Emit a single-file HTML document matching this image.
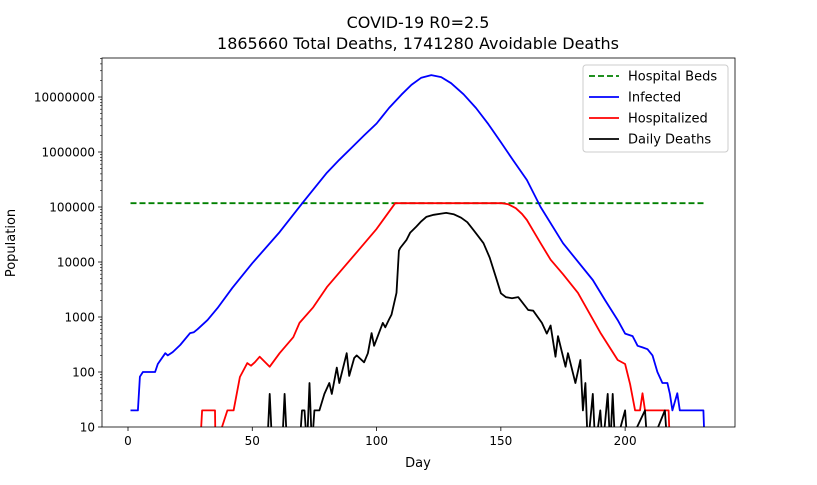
<!DOCTYPE html>
<html><head><meta charset="utf-8"><style>
body{margin:0;background:#fff;font-family:"Liberation Sans","DejaVu Sans",sans-serif}
svg text{font-family:"DejaVu Sans","Liberation Sans",sans-serif}
</style></head><body>
<svg id="c" width="817" height="480"></svg>
<script>
const bedCapacity = 117000;
const bedDays = [1, 232];
const infDays = [1,4,4.8,6,10.9,12,15,16,18,21,25,26.5,28,32,36,42,50,61,70.5,80,85,90,95,100,105,110,114,118,122,126,130,135,140,145,150,155,160.5,166,175,187,192,197,200,203,205,207,209,211,213,215,217,218,219,221,222,231.5,232];
const infVals = [20,20,82,100,100,140,220,200,230,310,510,530,600,880,1450,3400,9500,35000,123000,420000,720000,1200000,2000000,3300000,6300000,11000000,16600000,22400000,25000000,23000000,17800000,11200000,6300000,3200000,1500000,700000,310000,100000,22000,4700,2000,880,500,450,300,280,260,200,100,63,63,40,20,41,20,20,0];
const hospDays = [29,29.8,35,35.2,40,42.5,45,48,49.5,51,53,57,61,66.5,69,74.5,80,92,100,107.5,150.5,153,156,158.5,160.5,163,166,170,175,181,190,197,200,202,204,206,207,208,217.5,218];
const hospVals = [0,20,20,0,20,20,81,145,130,150,190,125,220,430,780,1500,3500,15000,40000,117000,117000,112000,95000,75000,58000,37000,22000,11000,6000,2750,520,165,140,60,20,20,41,20,20,0];
const deathDays = [56,57,58,62,63,64,69,70,71,72,73,74,75,76,77,79,81,82,84,85,88,89,91,92,95,96.5,98,99,102.5,103.5,105,106,108,109,109.5,112,113.5,116,118,120,123,126,128,131,134,136.5,139,141,143,145.5,148,150,152,154.5,157,161,163,166.5,168.5,170,172,173,176,177,180,182,183,184,185,187,188,190,191,193,194,195,196,200,201,208,209,210,216,217,218];
const deathVals = [0,40,0,0,40,0,0,20,20,0,63,0,20,20,20,40,63,40,120,63,220,85,180,200,150,220,510,300,780,650,900,1100,2750,16000,18000,25000,34000,44000,55000,66000,72000,76000,78000,74000,64000,53000,38000,29000,22000,12000,5300,2700,2300,2200,2300,1340,1300,780,500,700,190,450,125,220,63,165,20,63,0,40,0,20,0,40,0,40,0,20,0,20,0,0,20,0,0];
const xTicks=[0,50,100,150,200];
const yTicks=[10,100,1000,10000,100000,1000000,10000000];

const NS="http://www.w3.org/2000/svg",svg=document.getElementById('c');
const L=102,R=735,T=58,B=427;
const xMin=-10.46,xMax=244.2,yMinLog=1,yMaxLog=1+(B-T)/55;
const xs=d=>L+(d-xMin)/(xMax-xMin)*(R-L);
const ys=v=>v<=0?B+20:B-(Math.log10(v)-yMinLog)/(yMaxLog-yMinLog)*(B-T);
function mk(t,a,p){const e=document.createElementNS(NS,t);for(const k in a)e.setAttribute(k,a[k]);(p||svg).appendChild(e);return e;}
const defs=mk('defs',{});const cp=mk('clipPath',{id:'clip'},defs);mk('rect',{x:L,y:T,width:R-L,height:B-T},cp);
function txt(x,y,s,anchor,size,extra){const t=mk('text',Object.assign({x:x,y:y,'text-anchor':anchor,'font-size':size,fill:'#000'},extra||{}));t.textContent=s;return t;}
let t;
t=txt(418,28,'COVID-19 R0=2.5','middle',16);


t=txt(418,49,'1865660 Total Deaths, 1741280 Avoidable Deaths','middle',16);


xTicks.forEach(v=>{const x=xs(v);mk('line',{x1:x,x2:x,y1:B,y2:B+4,stroke:'#000','stroke-width':0.8});
 const e=txt(x,B+18,String(v),'middle',12);
 
 });
yTicks.forEach(v=>{const y=ys(v);mk('line',{x1:L-4,x2:L,y1:y,y2:y,stroke:'#000','stroke-width':0.8});
 const e=txt(L-7,y+4.5,String(v),'end',12);
 
 
 for(let m=2;m<10;m++){const yy=ys(v*m);if(yy>=T)mk('line',{x1:L-2,x2:L,y1:yy,y2:yy,stroke:'#000','stroke-width':0.6});}});
t=txt(418,467,'Day','middle',13);


t=txt(15,243,'Population','middle',13,{transform:'rotate(-90 15 243)'});


const g=mk('g',{'clip-path':'url(#clip)'});
function line(days,vals,color,name,dash){const d=days.map((x,i)=>(i?'L':'M')+xs(x).toFixed(1)+','+ys(vals[i]).toFixed(1)).join('');
 const p=mk('path',{d:d,fill:'none',stroke:color,'stroke-width':1.8,'stroke-linejoin':'round'},g);if(dash)p.setAttribute('stroke-dasharray',dash);
 
 }
line(bedDays,[bedCapacity,bedCapacity],'#008000','hospital-beds-line','6,3');
line(infDays,infVals,'#0000ff','infected-line');
line(hospDays,hospVals,'#ff0000','hospitalized-line');
line(deathDays,deathVals,'#000000','daily-deaths-line');
mk('rect',{x:L,y:T,width:R-L,height:B-T,fill:'none',stroke:'#000','stroke-width':0.8});
const lg=mk('g',{});
mk('rect',{x:583,y:65,width:145,height:87,rx:3,fill:'#fff',stroke:'#ccc','stroke-width':1},lg);
[['Hospital Beds','#008000','6,3'],['Infected','#0000ff'],['Hospitalized','#ff0000'],['Daily Deaths','#000']].forEach((it,i)=>{
 const y=76+i*21;const l=mk('line',{x1:589,x2:619,y1:y,y2:y,stroke:it[1],'stroke-width':1.8},lg);if(it[2])l.setAttribute('stroke-dasharray',it[2]);
 const e=txt(628,y+4.5,it[0],'start',13);lg.appendChild(e);
 
 });
</script>
</body></html>
